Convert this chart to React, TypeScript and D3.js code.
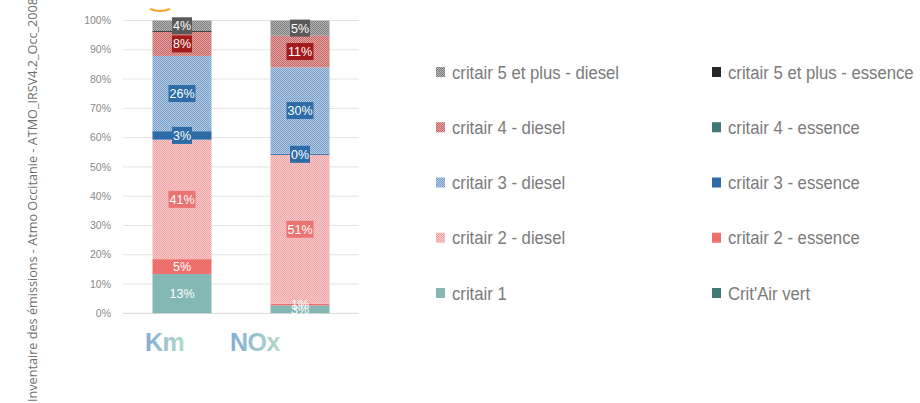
import React from "react";
import * as d3 from "d3";

const categories = ["Km", "NOx"];
const seriesNames = [
  "Crit'Air vert",
  "critair 1",
  "critair 2 - essence",
  "critair 2 - diesel",
  "critair 3 - essence",
  "critair 3 - diesel",
  "critair 4 - essence",
  "critair 4 - diesel",
  "critair 5 et plus - essence",
  "critair 5 et plus - diesel",
];
// share (%) per series, for Km and NOx
const kmValues = [0, 13.4, 5.1, 40.8, 2.9, 25.7, 0, 8.2, 0.3, 3.6];
const noxValues = [0, 2.7, 0.6, 50.8, 0.4, 29.5, 0, 10.8, 0, 5.2];
const kmLabels = [null, "13%", "5%", "41%", "3%", "26%", null, "8%", null, "4%"];
const noxLabels = [null, "3%", "1%", "51%", "0%", "30%", null, "11%", null, "5%"];
const yTicks = [0, 10, 20, 30, 40, 50, 60, 70, 80, 90, 100];
const legendLeft = ["critair 5 et plus - diesel", "critair 4 - diesel", "critair 3 - diesel", "critair 2 - diesel", "critair 1"];
const legendRight = ["critair 5 et plus - essence", "critair 4 - essence", "critair 3 - essence", "critair 2 - essence", "Crit'Air vert"];
const axisTitle = "Inventaire des émissions - Atmo Occitanie - ATMO_IRSV4.2_Occ_2008";

type Style = { fill: string; pattern?: [string, string]; box?: string };
const styles: Record<string, Style> = {
  "Crit'Air vert": { fill: "#417a74" },
  "critair 1": { fill: "#84b8b5" },
  "critair 2 - essence": { fill: "#ee706d" },
  "critair 2 - diesel": { fill: "#f5b8b8", pattern: ["#f9cdcd", "#f0a2a2"], box: "#ea7472" },
  "critair 3 - essence": { fill: "#2e6ca7", box: "#2e6ca7" },
  "critair 3 - diesel": { fill: "#96b5d6", pattern: ["#b2cae4", "#7aa0c8"], box: "#2e6ca7" },
  "critair 4 - essence": { fill: "#3f7a76" },
  "critair 4 - diesel": { fill: "#d48585", pattern: ["#e4a2a2", "#c46868"], box: "#a21c1c" },
  "critair 5 et plus - essence": { fill: "#262626" },
  "critair 5 et plus - diesel": { fill: "#9a9a9a", pattern: ["#b4b4b4", "#7e7e7e"], box: "#5a5a5a" },
};

const fillOf = (name: string, i: number) =>
  styles[name].pattern ? `url(#pat${i})` : styles[name].fill;

export default function App() {
  const y = d3.scaleLinear().domain([0, 100]).range([313.3, 20.5]);
  const x = d3.scaleBand<string>().domain(categories).range([123, 359]).paddingInner(0.5).paddingOuter(0.25);
  const bw = x.bandwidth();

  const valuesBy: Record<string, number[]> = { Km: kmValues, NOx: noxValues };
  const labelsBy: Record<string, (string | null)[]> = { Km: kmLabels, NOx: noxLabels };

  const bars = categories.map((c) => {
    const vals = valuesBy[c];
    let acc = 0;
    return vals.map((v, i) => {
      const y0 = acc;
      acc += v;
      return { c, i, name: seriesNames[i], y0, y1: acc, label: labelsBy[c][i] };
    });
  });

  const legendY = d3.scalePoint<number>().domain([0, 1, 2, 3, 4]).range([72, 293]);

  return (
    <svg width={920} height={403} style={{ position: "absolute", left: 0, top: 0, background: "#fff" }}>
      <defs>
        {seriesNames.map((n, i) =>
          styles[n].pattern ? (
            <pattern key={i} id={`pat${i}`} width={2} height={2} patternUnits="userSpaceOnUse">
              <rect width={2} height={2} fill={styles[n].pattern![0]} />
              <rect width={1} height={1} fill={styles[n].pattern![1]} />
              <rect x={1} y={1} width={1} height={1} fill={styles[n].pattern![1]} />
            </pattern>
          ) : null
        )}
        <linearGradient id="catGrad" x1="0" x2="1" y1="0" y2="0">
          <stop offset="0" stopColor="#7fadd4" />
          <stop offset="1" stopColor="#b5dac8" />
        </linearGradient>
      </defs>

      {/* rotated source text */}
      <text
        transform={`translate(37,402) rotate(-90)`}
        x={0}
        fontFamily="'Open Sans', sans-serif"
        fontSize={12.5}
        fill="#6f6f6f"
        textLength={404}
        lengthAdjust="spacingAndGlyphs"
      >
        {axisTitle}
      </text>

      {/* orange mark */}
      <path d="M150,9 Q160,13 170,9" fill="none" stroke="#f5a623" strokeWidth={2} />

      {/* gridlines and ticks */}
      {yTicks.map((t) => (
        <g key={t}>
          <line x1={123} x2={359} y1={y(t)} y2={y(t)} stroke={t === 0 ? "#d9d9d9" : "#e4e4e4"} strokeWidth={1} />
          <text x={111} y={y(t)} dy="0.35em" textAnchor="end" fontFamily="'Liberation Sans', Arial, sans-serif" fontSize={10.5} fill="#8a8a8a">
            {t}%
          </text>
        </g>
      ))}

      {/* bars */}
      {bars.map((segs) =>
        segs.map((s) =>
          s.y1 - s.y0 > 0 ? (
            <rect
              key={s.c + s.i}
              x={x(s.c)!}
              width={bw}
              y={y(s.y1)}
              height={y(s.y0) - y(s.y1)}
              fill={fillOf(s.name, s.i)}
            />
          ) : null
        )
      )}

      {/* labels */}
      {bars.map((segs) =>
        segs.map((s) => {
          if (!s.label) return null;
          const cx = x(s.c)! + bw / 2;
          const cy = y((s.y0 + s.y1) / 2);
          const w = s.label.length * 7 + 6;
          const box = styles[s.name].box;
          return (
            <g key={"l" + s.c + s.i}>
              {box ? <rect x={cx - w / 2} y={cy - 8.5} width={w} height={17} fill={box} /> : null}
              <text x={cx} y={cy} dy="0.36em" textAnchor="middle" fontFamily="'Liberation Sans', Arial, sans-serif" fontSize={12.5} fill="#ffffff">
                {s.label}
              </text>
            </g>
          );
        })
      )}

      {/* category labels */}
      {categories.map((c, i) => (
        <text
          key={c}
          x={i === 0 ? 145 : 230}
          y={351}
          fontFamily="'Liberation Sans', Arial, sans-serif"
          fontWeight="bold"
          fontSize={25}
          fill="url(#catGrad)"
          letterSpacing={-0.5}
        >
          {c}
        </text>
      ))}

      {/* legend */}
      {[legendLeft, legendRight].map((col, ci) =>
        col.map((name, ri) => {
          const sx = ci === 0 ? 436 : 712;
          const cy = legendY(ri)!;
          const idx = seriesNames.indexOf(name);
          return (
            <g key={name}>
              <rect x={sx} y={cy - 5} width={9} height={10} fill={fillOf(name, idx)} />
              <text
                transform={`translate(${sx + 16},${cy + 6.5}) scale(0.88,1)`}
                fontFamily="'Liberation Sans', Arial, sans-serif"
                fontSize={19}
                fill="#7b7b7b"
              >
                {name}
              </text>
            </g>
          );
        })
      )}
    </svg>
  );
}
